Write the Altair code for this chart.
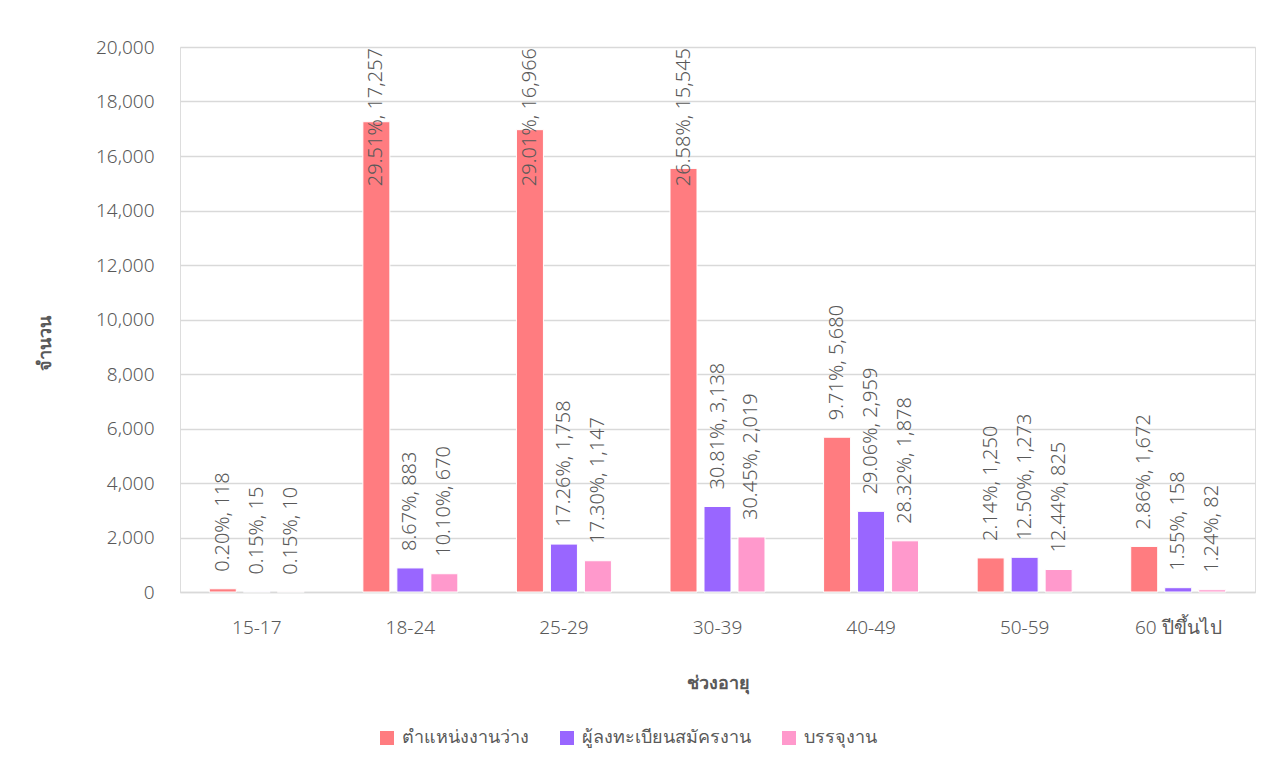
import altair as alt
import pandas as pd

age_groups = ["15-17", "18-24", "25-29", "30-39", "40-49", "50-59", "60 ปีขึ้นไป"]
series_names = ["ตำแหน่งงานว่าง", "ผู้ลงทะเบียนสมัครงาน", "บรรจุงาน"]

vacancies = [118, 17257, 16966, 15545, 5680, 1250, 1672]
vacancies_pct = ["0.20%", "29.51%", "29.01%", "26.58%", "9.71%", "2.14%", "2.86%"]

applicants = [15, 883, 1758, 3138, 2959, 1273, 158]
applicants_pct = ["0.15%", "8.67%", "17.26%", "30.81%", "29.06%", "12.50%", "1.55%"]

placements = [10, 670, 1147, 2019, 1878, 825, 82]
placements_pct = ["0.15%", "10.10%", "17.30%", "30.45%", "28.32%", "12.44%", "1.24%"]

colors = ["#FF7C80", "#9966FF", "#FF99CC"]
y_max = 20000
y_ticks = list(range(0, 20001, 2000))

rows = []
for name, vals, pcts in [
    (series_names[0], vacancies, vacancies_pct),
    (series_names[1], applicants, applicants_pct),
    (series_names[2], placements, placements_pct),
]:
    for g, v, p in zip(age_groups, vals, pcts):
        rows.append({"age": g, "series": name, "value": v, "label": f"{p}, {v:,}", "top": y_max})
df = pd.DataFrame(rows)

FONT = "Noto Sans"
GRAY = "#595959"

x_axis = alt.Axis(
    labelAngle=0,
    labelFontSize=19,
    labelFontWeight=300,
    labelColor=GRAY,
    labelPadding=26,
    ticks=False,
    domainColor="#d9d9d9",
    domainWidth=1.5,
    titleFontSize=18,
    titleFontWeight="bold",
    titleColor=GRAY,
    titleY=91,
    titleBaseline="middle",
)
y_axis = alt.Axis(
    values=y_ticks,
    format=",.0f",
    labelFontSize=19,
    labelFontWeight=300,
    labelColor=GRAY,
    labelPadding=26,
    ticks=False,
    domain=False,
    gridColor="#d9d9d9",
    gridWidth=1.5,
    titleFontSize=18,
    titleFontWeight="bold",
    titleColor=GRAY,
    titleX=-135,
    titleY=296,
    titleAngle=270,
    titleBaseline="middle",
)
x_scale = alt.Scale(paddingInner=0.336, paddingOuter=0.168)
y_scale = alt.Scale(domain=[0, y_max], nice=False)

x_enc = alt.X("age:N", sort=age_groups, title="ช่วงอายุ", scale=x_scale, axis=x_axis)
xoff = alt.XOffset(
    "series:N",
    sort=series_names,
    scale=alt.Scale(paddingInner=0.206, paddingOuter=0.103),
)

base = alt.Chart(df)

bars = base.mark_bar(stroke="white", strokeWidth=1).encode(
    x=x_enc,
    xOffset=xoff,
    y=alt.Y("value:Q", scale=y_scale, title="จำนวน", axis=y_axis),
    color=alt.Color(
        "series:N",
        sort=series_names,
        scale=alt.Scale(domain=series_names, range=colors),
        legend=alt.Legend(
            title=None,
            orient="none",
            direction="horizontal",
            legendX=198,
            legendY=682,
            symbolType="square",
            symbolSize=196,
            symbolStrokeWidth=0,
            labelFontSize=18,
            labelFontWeight=300,
            labelColor=GRAY,
            labelOffset=6,
            labelLimit=0,
            columnPadding=29,
        ),
    ),
)

labels_out = base.transform_filter(alt.datum.value <= 14000).mark_text(
    angle=270, align="left", baseline="middle", dx=17, fontSize=20, fontWeight=300,
    color=GRAY, font=FONT
).encode(
    x=x_enc,
    xOffset=xoff,
    y=alt.Y("value:Q", scale=y_scale, title="จำนวน", axis=y_axis),
    text="label:N",
)

labels_in = base.transform_filter(alt.datum.value > 14000).mark_text(
    angle=270, align="right", baseline="middle", dx=-1, fontSize=20, fontWeight=300,
    color=GRAY, font=FONT
).encode(
    x=x_enc,
    xOffset=xoff,
    y=alt.Y("top:Q", scale=y_scale, title="จำนวน", axis=y_axis),
    text="label:N",
)

chart = (
    alt.layer(bars, labels_out, labels_in)
    .properties(
        width=1075,
        height=545,
        autosize=alt.AutoSizeParams(type="none"),
        padding={"left": 172, "top": 39, "right": 14, "bottom": 160},
    )
    .configure_view(strokeWidth=0, stroke="transparent")
    .configure(font=FONT)
)

chart.save("out.html", embed_options={"renderer": "svg", "actions": False})
